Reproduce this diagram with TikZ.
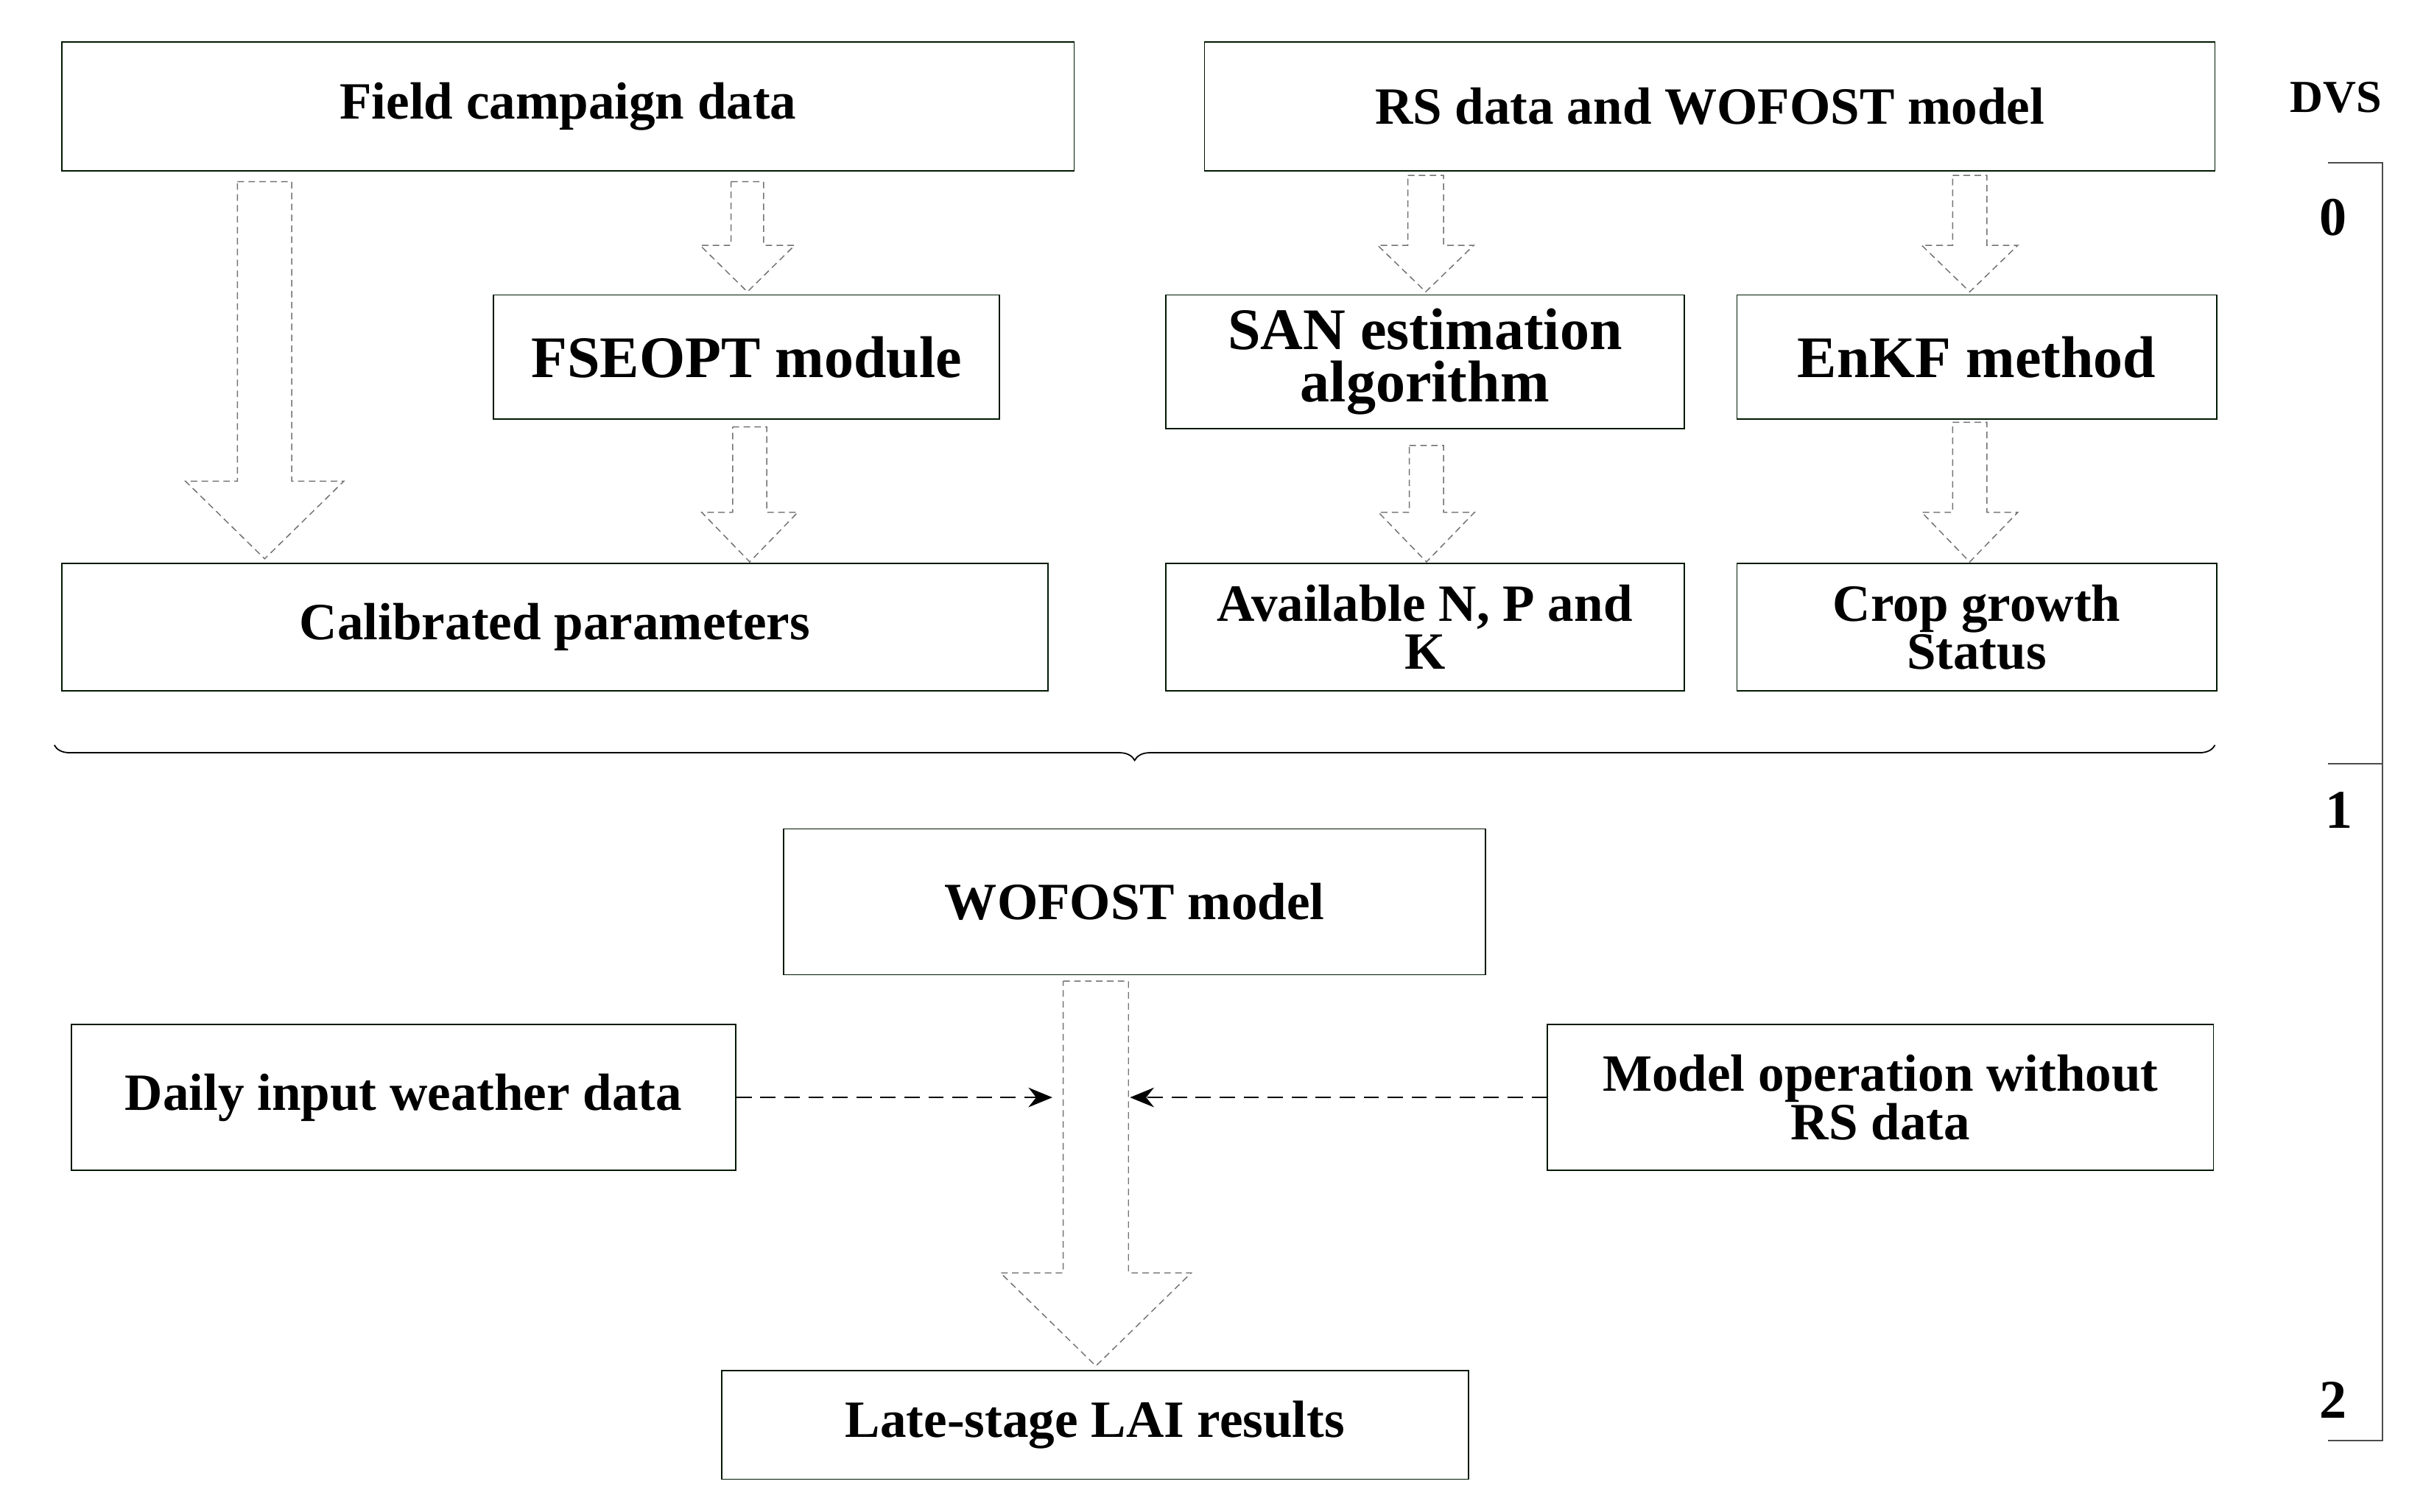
\documentclass[tikz,border=0pt]{standalone}
\usepackage{fontspec}
\setmainfont{Liberation Serif}
\usetikzlibrary{arrows.meta,decorations.pathreplacing}
\begin{document}
\begin{tikzpicture}[x=0.05cm,y=-0.05cm,
 box/.style={draw=black!75!green!40!black,line width=1.2pt,inner sep=0pt,align=center,font=\fontsize{48}{44}\selectfont\bfseries},
 big/.style={box,font=\fontsize{54}{48}\selectfont\bfseries},
 hol/.style={draw=black!55,dashed,line width=1pt,dash pattern=on 6pt off 4pt},
 dar/.style={dashed,line width=1.4pt,dash pattern=on 14pt off 8pt,-{Stealth[length=22pt,width=18pt]}}]
\useasboundingbox (0,0) rectangle (1552,974);
\newcommand\harrow[6]{\draw[hol] (#1-#2,#4) -- (#1+#2,#4) -- (#1+#2,#5) -- (#1+#3,#5) -- (#1,#6) -- (#1-#3,#5) -- (#1-#2,#5) -- cycle;}
\node[box,minimum width=652*0.05cm,minimum height=83*0.05cm] (fc) at (366,68.5) {Field campaign data};
\node[box,minimum width=651*0.05cm,minimum height=83*0.05cm] (rs) at (1101.5,68.5) {RS data and WOFOST model};
\node[font=\fontsize{42}{44}\selectfont\bfseries] (dvs) at (1505,63) {DVS};
\node[big,minimum width=334*0.05cm,minimum height=86*0.05cm] (san) at (918,233) {SAN estimation\\algorithm};
\node[big,minimum width=326*0.05cm,minimum height=80*0.05cm] (fs) at (481,230) {FSEOPT module};
\node[big,minimum width=309*0.05cm,minimum height=80*0.05cm] (enkf) at (1273.5,230) {EnKF method};
\node[box,minimum width=635*0.05cm,minimum height=82*0.05cm] (cal) at (357.5,404) {Calibrated parameters};
\node[box,minimum width=334*0.05cm,minimum height=82*0.05cm] (av) at (918,404) {Available N, P and\\K};
\node[box,minimum width=309*0.05cm,minimum height=82*0.05cm] (cg) at (1273.5,404) {Crop growth\\Status};
\node[box,minimum width=452*0.05cm,minimum height=94*0.05cm] (wo) at (731,581) {WOFOST model};
\node[box,minimum width=428*0.05cm,minimum height=94*0.05cm] (dw) at (260,707) {Daily input weather data};
\node[box,minimum width=429*0.05cm,minimum height=94*0.05cm] (mo) at (1211.5,707) {Model operation without\\RS data};
\node[box,minimum width=481*0.05cm,minimum height=70*0.05cm] (lai) at (705.5,918) {Late-stage LAI results};
% hollow arrows
\harrow{170.5}{17.5}{51}{117}{310}{360}
\harrow{481.5}{10.5}{30.5}{117}{158}{188}
\harrow{483}{11}{31}{275}{330}{362}
\harrow{918.5}{11.5}{31}{113}{158}{188}
\harrow{1269}{11}{31}{113}{158}{188}
\harrow{919}{11}{31}{287}{330}{362}
\harrow{1269}{11}{31}{272}{330}{362}
\harrow{706}{21}{61.5}{632}{820}{880}
\coordinate (c1) at (678,707);
\coordinate (c2) at (728,707);
\draw[dar] (dw.east) -- (c1);
\draw[dar] (mo.west) -- (c2);
% brace
\draw[line width=1.2pt,decorate,decoration={brace,amplitude=14pt}] (1427,480) -- (35,480);
% DVS scale
\draw[line width=1.2pt,draw=black!70] (1500,105) -- (1535,105) -- (1535,928) -- (1500,928);
\draw[line width=1.2pt,draw=black!70] (1500,492) -- (1535,492);
\node[font=\fontsize{50}{50}\selectfont\bfseries] (d0) at (1503,140) {0};
\node[font=\fontsize{50}{50}\selectfont\bfseries] (d1) at (1507,522) {1};
\node[font=\fontsize{50}{50}\selectfont\bfseries] (d2) at (1503,902) {2};
\end{tikzpicture}
\end{document}
